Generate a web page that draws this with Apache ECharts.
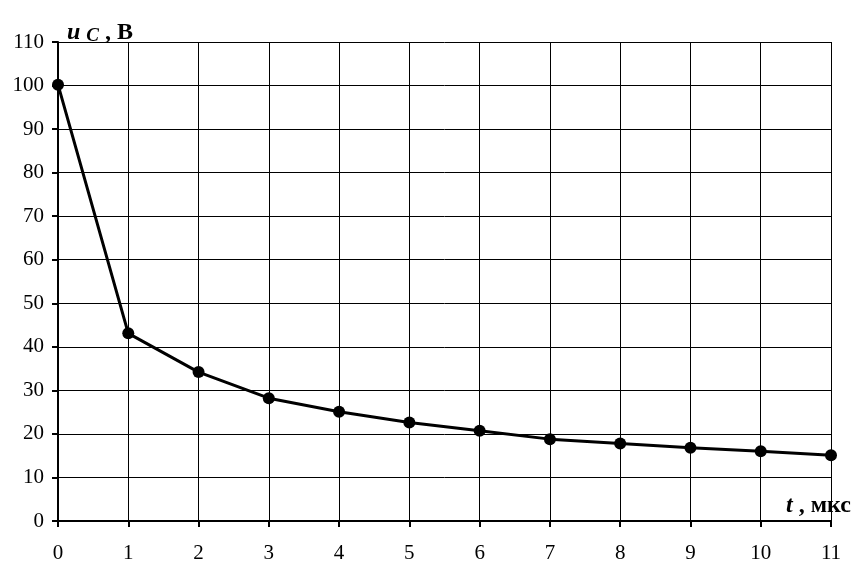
<!DOCTYPE html>
<html><head><meta charset="utf-8">
<script src="https://cdn.jsdelivr.net/npm/echarts@6/dist/echarts.min.js"></script>
<style>html,body{margin:0;padding:0;background:#fff}#c{width:864px;height:579px}</style>
</head><body><div id="c"></div>
<script>
const tValues = [0,1,2,3,4,5,6,7,8,9,10,11];
const uValues = [100.2,43.1,34.2,28.2,25.1,22.6,20.7,18.8,17.8,16.8,16.0,15.1];
const xTicks = {min:0,max:11,interval:1};
const yTicks = {min:0,max:110,interval:10};
const chart = echarts.init(document.getElementById('c'));
const font = '"Liberation Serif","DejaVu Serif",serif';
chart.setOption({
  backgroundColor:'#fff',
  animation:false,
  grid:{left:58,right:33,top:42,bottom:58},
  xAxis:{type:'value',min:xTicks.min,max:xTicks.max,interval:xTicks.interval,
    axisLine:{lineStyle:{color:'#000',width:2}},
    axisTick:{show:true,length:6,inside:false,lineStyle:{color:'#000',width:2}},
    axisLabel:{color:'#000',fontFamily:font,fontSize:21,margin:22},
    splitLine:{show:true,lineStyle:{color:'#000',width:1}}},
  yAxis:{type:'value',min:yTicks.min,max:yTicks.max,interval:yTicks.interval,
    axisLine:{show:true,lineStyle:{color:'#000',width:2}},
    axisTick:{show:true,length:6,lineStyle:{color:'#000',width:2}},
    axisLabel:{color:'#000',fontFamily:font,fontSize:21,margin:14},
    splitLine:{show:true,lineStyle:{color:'#000',width:1}}},
  series:[{type:'line',data:tValues.map((t,i)=>[t,uValues[i]]),
    lineStyle:{color:'#000',width:3},itemStyle:{color:'#000'},
    symbol:'circle',symbolSize:12,showSymbol:true}],
  graphic:[
    {type:'text',left:67,top:21,style:{text:'{u|u }{s|C}{b| , В}',rich:{
      u:{fontFamily:font,fontSize:24,fontWeight:'bold',fontStyle:'italic',fill:'#000'},
      s:{fontFamily:font,fontSize:19,fontWeight:'bold',fontStyle:'italic',fill:'#000',padding:[7,0,0,0]},
      b:{fontFamily:font,fontSize:24,fontWeight:'bold',fill:'#000'}}}},
    {type:'text',left:786,top:494,style:{text:'{u|t}{b| , мкс}',rich:{
      u:{fontFamily:font,fontSize:24,fontWeight:'bold',fontStyle:'italic',fill:'#000'},
      b:{fontFamily:font,fontSize:24,fontWeight:'bold',fill:'#000'}}}}
  ]
});
</script></body></html>
